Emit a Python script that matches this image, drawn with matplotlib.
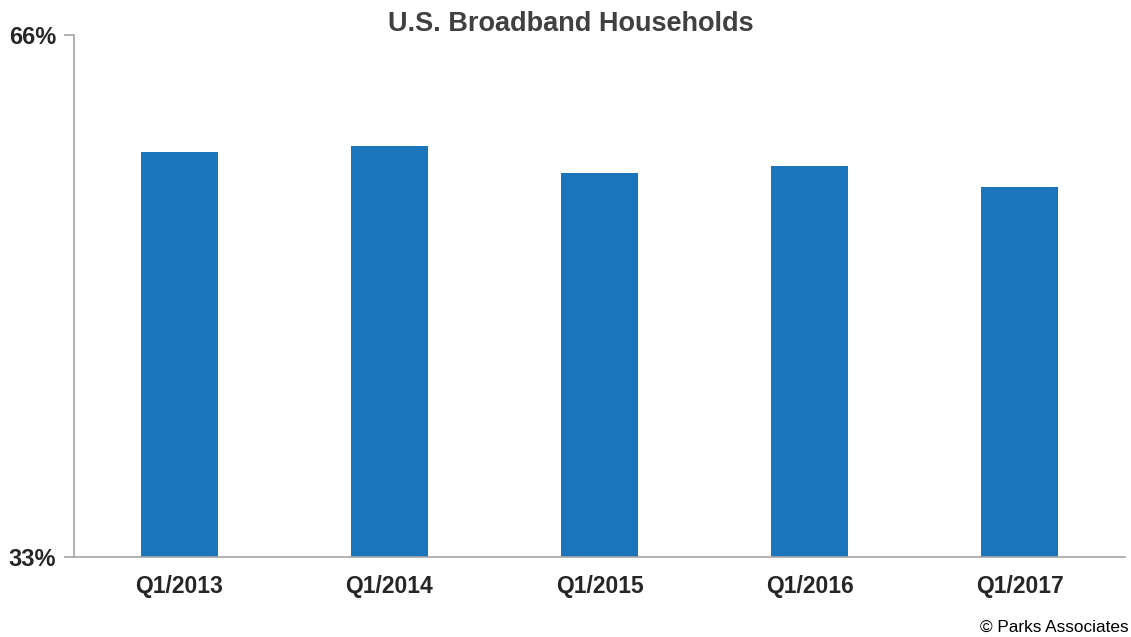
import matplotlib.pyplot as plt

plt.rcParams["font.family"] = ["Liberation Sans", "DejaVu Sans"]

quarters = ["Q1/2013", "Q1/2014", "Q1/2015", "Q1/2016", "Q1/2017"]
broadband_pct = [58.6, 59.0, 57.3, 57.7, 56.4]
y_ticks = [33, 66]
y_tick_labels = ["33%", "66%"]

fig = plt.figure(figsize=(11.31, 6.37), dpi=100)
ax = fig.add_axes([74 / 1131, 80 / 637, (1125 - 74) / 1131, (557 - 35) / 637])

ax.bar(quarters, broadband_pct, width=0.367, color="#1b75bb", bottom=0)
ax.set_ylim(33, 66)
ax.set_xlim(-0.5, len(quarters) - 0.5)

ax.set_yticks(y_ticks)
ax.set_yticklabels(y_tick_labels)
for spine in ["top", "right"]:
    ax.spines[spine].set_visible(False)
for spine in ["left", "bottom"]:
    ax.spines[spine].set_color("#a6a6a6")
    ax.spines[spine].set_linewidth(1.2)

ax.tick_params(axis="y", length=7, width=1.2, color="#a6a6a6", pad=6,
               labelsize=17, labelcolor="#262626")
ax.tick_params(axis="x", length=0, pad=13, labelsize=16.5, labelcolor="#262626")
for lbl in ax.get_yticklabels() + ax.get_xticklabels():
    lbl.set_fontweight("bold")

fig.text(0.505, 0.963, "U.S. Broadband Households", ha="center", va="center",
         fontsize=19.5, fontweight="bold", color="#404040")
# reference clips this at the right edge; keep it just inside here
fig.text(0.998, 0.003, "© Parks Associates", ha="right", va="bottom",
         fontsize=12.4, color="#000000")

fig.savefig("out.png", dpi=100)
